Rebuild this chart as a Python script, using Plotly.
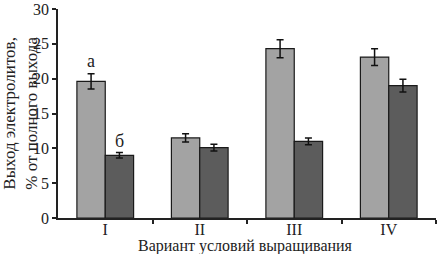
import plotly.graph_objects as go

categories = ["I", "II", "III", "IV"]
light_vals = [19.6, 11.5, 24.3, 23.1]
light_err = [1.1, 0.6, 1.3, 1.2]
dark_vals = [9.0, 10.1, 11.0, 19.0]
dark_err = [0.4, 0.5, 0.5, 0.9]
y_ticks = [0, 5, 10, 15, 20, 25, 30]

FONT = "Liberation Serif"
xpos = list(range(len(categories)))

fig = go.Figure()
fig.add_trace(go.Bar(
    x=xpos, y=light_vals,
    marker=dict(color="#a3a3a3", line=dict(color="#1a1a1a", width=1.2)),
    error_y=dict(type="data", array=light_err, color="#111", thickness=1.5, width=3.5),
    showlegend=False,
))
fig.add_trace(go.Bar(
    x=xpos, y=dark_vals,
    marker=dict(color="#5c5c5c", line=dict(color="#1a1a1a", width=1.2)),
    error_y=dict(type="data", array=dark_err, color="#111", thickness=1.5, width=3.5),
    showlegend=False,
))

fig.add_annotation(x=0, y=light_vals[0] + light_err[0], text="а", showarrow=False,
                   xshift=-14, yshift=1, yanchor="bottom", font=dict(family=FONT, size=18, color="#222"))
fig.add_annotation(x=0, y=dark_vals[0] + dark_err[0], text="б", showarrow=False,
                   xshift=14, yshift=0, yanchor="bottom", font=dict(family=FONT, size=18, color="#222"))

# axis titles
fig.add_annotation(xref="paper", yref="paper", x=-0.1, y=0.5, xanchor="center", yanchor="middle",
                   text="Выход электролитов,<br>% от полного выхода", textangle=-90, showarrow=False,
                   font=dict(family=FONT, size=17, color="#222"))
fig.add_annotation(xref="paper", yref="paper", x=0.495, y=-0.135, xanchor="center", yanchor="middle",
                   text="Вариант условий выращивания", showarrow=False,
                   font=dict(family=FONT, size=16, color="#222"))

fig.update_layout(
    width=443, height=254,
    margin=dict(l=58, r=7, t=9, b=36),
    paper_bgcolor="white", plot_bgcolor="white",
    barmode="group", bargap=0.4, bargroupgap=0,
    font=dict(family=FONT, size=16, color="#222"),
)
fig.update_xaxes(
    range=[-0.5, 3.5], tickmode="array", tickvals=xpos, ticktext=categories, automargin=False,
    ticks="", showline=True, linecolor="#222", linewidth=1.5, showgrid=False, zeroline=False,
    tickfont=dict(family=FONT, size=16), ticklabelstandoff=-4,
    minor=dict(tickmode="array", tickvals=[0.5, 1.5, 2.5, 3.5], ticks="outside", ticklen=4,
               tickcolor="#222", tickwidth=1.5, showgrid=False),
)
fig.update_yaxes(
    range=[0, 30], tickmode="array", tickvals=y_ticks, ticks="outside", ticklen=4, automargin=False,
    tickcolor="#222", tickwidth=1.5, showline=True, linecolor="#222", linewidth=1.5,
    showgrid=False, zeroline=False, tickfont=dict(family=FONT, size=16),
)

fig.write_html("out.html", config={"displayModeBar": False},
               post_script="document.body.style.margin='0';")
